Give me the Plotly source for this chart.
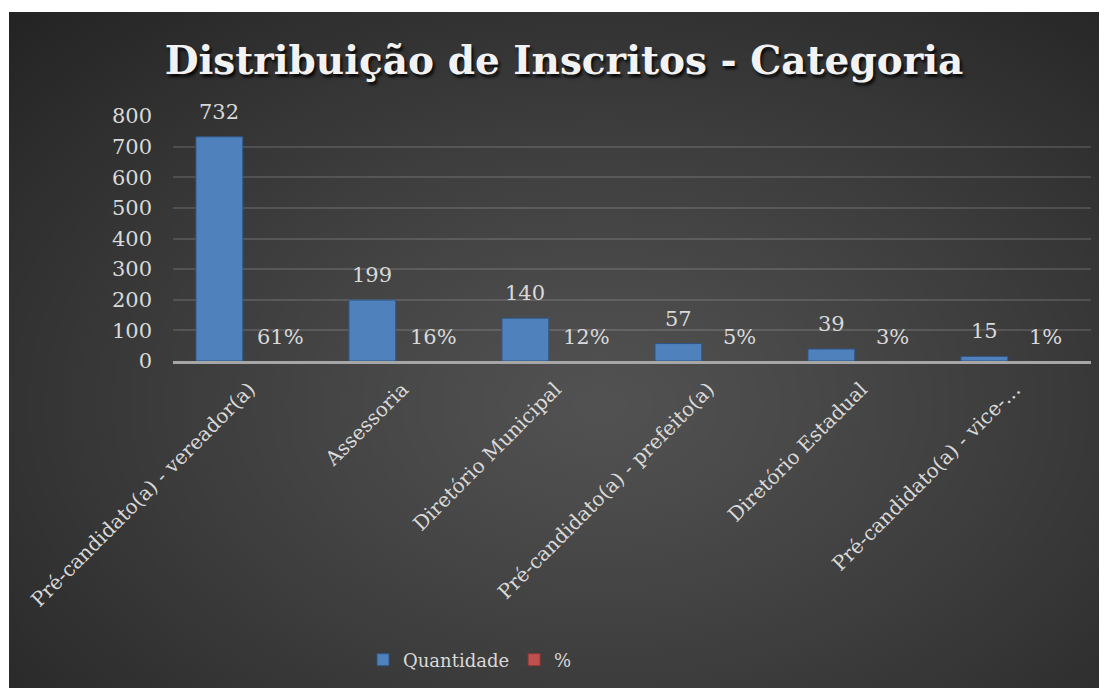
import zlib, struct, base64
import numpy as np
import plotly.graph_objects as go

categories = ["Pré-candidato(a) - vereador(a)", "Assessoria", "Diretório Municipal",
              "Pré-candidato(a) - prefeito(a)", "Diretório Estadual",
              "Pré-candidato(a) - vice-prefeito(a)"]
tick_labels = ["Pré-candidato(a) - vereador(a)", "Assessoria", "Diretório Municipal",
               "Pré-candidato(a) - prefeito(a)", "Diretório Estadual",
               "Pré-candidato(a) - vice-…"]
quantidade = [732, 199, 140, 57, 39, 15]
percent = [0.61, 0.16, 0.12, 0.05, 0.03, 0.01]
percent_labels = ["61%", "16%", "12%", "5%", "3%", "1%"]
y_ticks = [0, 100, 200, 300, 400, 500, 600, 700, 800]

# page has an 8px body margin: figure coordinates = page coordinates - 8
OFF = 8
W, H = 1107, 688
L, T = 173 - OFF, 116 - OFF
PW = 1091 - 173
PH = 361 - 116
R, B = W - L - PW, H - T - PH

def png_uri(arr):
    h, w, _ = arr.shape
    raw = b"".join(b"\x00" + arr[i].tobytes() for i in range(h))
    def chunk(t, d):
        c = struct.pack(">I", len(d)) + t + d
        return c + struct.pack(">I", zlib.crc32(t + d) & 0xffffffff)
    png = (b"\x89PNG\r\n\x1a\n" + chunk(b"IHDR", struct.pack(">IIBBBBB", w, h, 8, 2, 0, 0, 0))
           + chunk(b"IDAT", zlib.compress(raw, 9)) + chunk(b"IEND", b""))
    return "data:image/png;base64," + base64.b64encode(png).decode()

# background box in figure coords (extends past the visible page edge)
bx0, by0, bx1, by1 = 9 - OFF, 12 - OFF, W, H
gw, gh = 277, 171
xs = np.linspace(0, 1, gw)[None, :]
ys = np.linspace(0, 1, gh)[:, None]
r = np.sqrt(((xs - 0.535) / 0.535) ** 2 + ((ys - 0.575) / 0.575) ** 2) / np.sqrt(2)
r = np.clip(r, 0, 1)
val = 82 - 46 * r ** 1.15
img = np.clip(np.stack([val, val, val], axis=-1), 0, 255).astype(np.uint8)
bg_uri = png_uri(img)

off_q, off_p, bw = -0.35, 0.047, 0.306

fig = go.Figure()
fig.add_trace(go.Bar(x=categories, y=quantidade, name="Quantidade",
                     offset=off_q, width=bw,
                     marker=dict(color="#4f81bd", line=dict(color="#2f5587", width=1))))
# % series: its bars are sub-pixel on this scale, so they are drawn transparent
fig.add_trace(go.Bar(x=categories, y=percent, name="%", legendgroup="pct", showlegend=False,
                     offset=off_p, width=bw,
                     marker=dict(color="rgba(192,80,77,0)", line=dict(width=0))))
fig.add_trace(go.Bar(x=[None], y=[None], name="%", legendgroup="pct", showlegend=True,
                     marker=dict(color="#c0504d", line=dict(color="#8c3836", width=1))))

lab_font = dict(family="DejaVu Serif", size=21, color="#d9d9d9")
annotations = []
for i, v in enumerate(quantidade):
    annotations.append(dict(x=i + off_q + bw / 2, y=v, xref="x", yref="y", text=str(v),
                            showarrow=False, yshift=25, yanchor="middle", font=lab_font))
for i, (v, t) in enumerate(zip(percent, percent_labels)):
    annotations.append(dict(x=i + off_p + bw / 2, y=v, xref="x", yref="y", text=t,
                            showarrow=False, yshift=24, yanchor="middle", font=lab_font))

fig.update_layout(
    width=W, height=H,
    margin=dict(l=L, r=R, t=T, b=B, pad=0),
    paper_bgcolor="white",
    plot_bgcolor="rgba(0,0,0,0)",
    barmode="overlay",
    title=dict(text="<b>Distribuição de Inscritos - Categoria</b>",
               x=(564 - OFF) / W, xanchor="center", xref="container",
               y=1 - (60 - OFF) / H, yanchor="middle", yref="container",
               font=dict(family="DejaVu Serif", size=39, color="#f2f2f2",
                         shadow="2px 3px 3px rgba(0,0,0,0.85)")),
    xaxis=dict(type="category", tickvals=categories, ticktext=tick_labels,
               tickangle=-45, tickfont=dict(family="DejaVu Serif", size=20, color="#d9d9d9"),
               showgrid=False, showline=True, linecolor="#a6a6a6", linewidth=2.5,
               layer="above traces",
               ticks="", ticklabelstandoff=6, range=[-0.5, 5.5], fixedrange=True),
    yaxis=dict(range=[0, 800], tickvals=y_ticks,
               tickfont=dict(family="DejaVu Serif", size=21, color="#d9d9d9"),
               showgrid=True, gridcolor="rgba(255,255,255,0.13)", gridwidth=1.5,
               zeroline=False, showline=False, ticks="", ticklabelstandoff=20),
    legend=dict(orientation="h", x=(355 - L) / PW, xanchor="left",
                y=(T + PH - 652) / PH, yanchor="middle",
                font=dict(family="DejaVu Serif", size=18, color="#d9d9d9"),
                bgcolor="rgba(0,0,0,0)", itemclick=False),
    annotations=annotations,
    images=[dict(source=bg_uri, xref="paper", yref="paper",
                 x=(bx0 - L) / PW, y=(T + PH - by0) / PH,
                 sizex=(bx1 - bx0) / PW, sizey=(by1 - by0) / PH,
                 xanchor="left", yanchor="top", sizing="stretch", layer="below")],
    showlegend=True,
)

fig.write_html("out.html")
